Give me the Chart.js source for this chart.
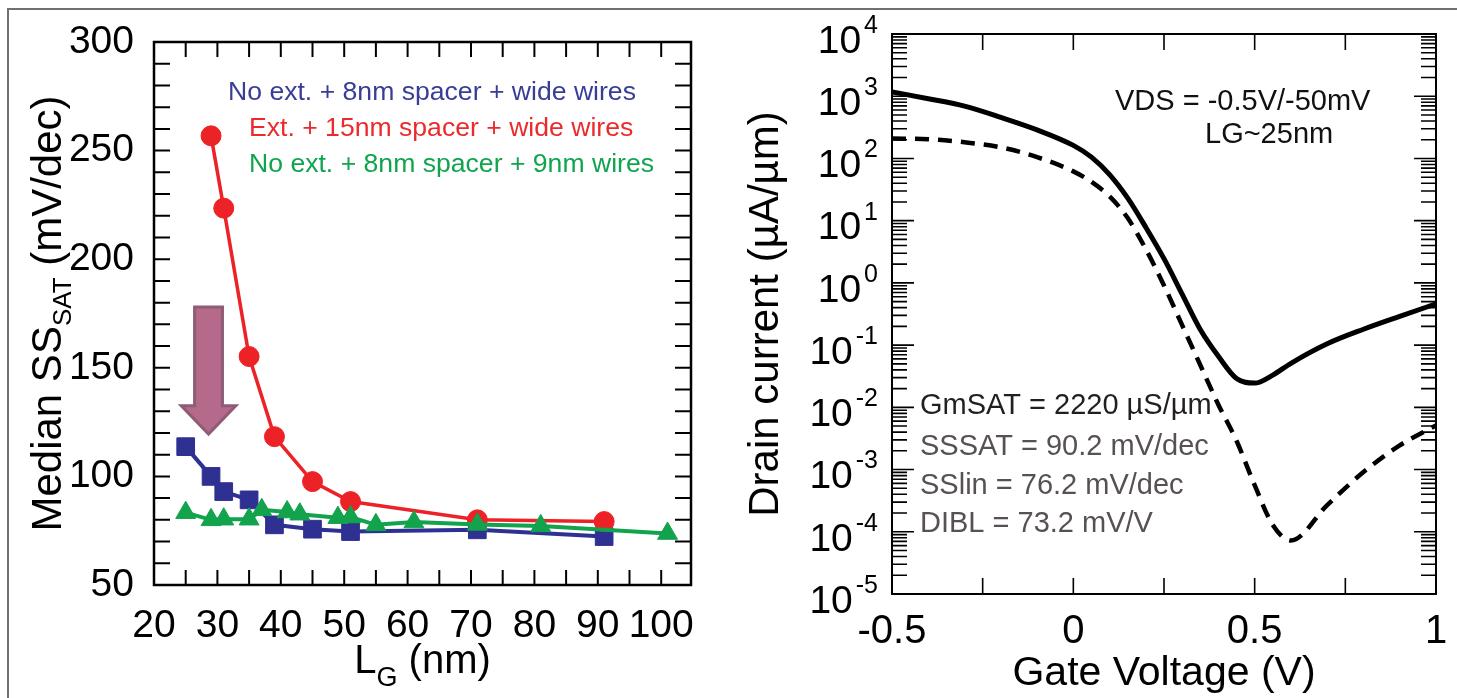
<!DOCTYPE html>
<html><head><meta charset="utf-8">
<script src="https://cdn.jsdelivr.net/npm/chart.js@4.4.1/dist/chart.umd.min.js"></script>
<style>
html,body{margin:0;padding:0;background:#fff;width:1457px;height:698px;overflow:hidden;}
#frame{position:absolute;left:7px;top:8px;width:1460px;height:700px;border-top:2px solid #707070;border-left:2px solid #707070;}
#w1{position:absolute;left:0;top:0;width:730px;height:698px;}
#w2{position:absolute;left:730px;top:0;width:727px;height:698px;}
</style></head>
<body>
<div id="frame"></div>
<div id="w1"><canvas id="c1" width="730" height="698"></canvas></div>
<div id="w2"><canvas id="c2" width="727" height="698"></canvas></div>
<script>
// ---------- Left panel data ----------
const lgBlue  = [25, 29, 31, 35, 39, 45, 51, 71, 91];
const ssBlue  = [113.7, 100, 93, 89.2, 77.7, 75.7, 74.6, 75.4, 72.3];
const lgRed   = [29, 31, 35, 39, 45, 51, 71, 91];
const ssRed   = [256.8, 223.5, 155.2, 118.3, 97.6, 88.4, 80, 79.2];
const lgGreen = [25, 29, 31, 35, 37, 41, 43, 49, 51, 55, 61, 71, 81, 101];
const ssGreen = [83.3, 80, 80.3, 80.3, 84.6, 83.6, 82.6, 81, 81.3, 77.7, 79, 77.9, 77.2, 73.7];
const seriesNames = ['No ext. + 8nm spacer + wide wires', 'Ext. + 15nm spacer + wide wires', 'No ext. + 8nm spacer + 9nm wires'];
const xLabelsL = [20, 30, 40, 50, 60, 70, 80, 90, 100];
const xTicksL  = [20, 25, 30, 35, 40, 45, 50, 55, 60, 65, 70, 75, 80, 85, 90, 95, 100];
const yLabelsL = [50, 100, 150, 200, 250, 300];
const yTicksL  = [50, 60, 70, 80, 90, 100, 110, 120, 130, 140, 150, 160, 170, 180, 190, 200, 210, 220, 230, 240, 250, 260, 270, 280, 290, 300];
// arrow annotation (data units): centre x, top y, head-base y, tip y, shaft half width, head half width
const arrowL = {x: 28.6, top: 178, headBase: 132.5, tip: 119.5, shaftHalf: 2.2, headHalf: 4.3};

// ---------- Right panel data ----------
const vg      = [-0.5, -0.4, -0.3, -0.2, -0.1, 0, 0.05, 0.1, 0.15, 0.2, 0.25, 0.3, 0.35, 0.4, 0.45, 0.5, 0.55, 0.6, 0.7, 0.8, 0.9, 1.0];
const idSat   = [1175, 912, 692, 457, 288, 162, 105, 55, 23, 7.8, 2.45, 0.66, 0.178, 0.066, 0.029, 0.0245, 0.033, 0.051, 0.105, 0.18, 0.29, 0.46];
const idLin   = [209, 204, 182, 151, 105, 62, 42, 24.5, 11, 3.47, 0.91, 0.209, 0.048, 0.011, 0.0029, 0.00056, 0.000129, 0.0000724, 0.000269, 0.000912, 0.00245, 0.00513];
const xLabelsR = [-0.5, 0, 0.5, 1];
const xTextR   = ['-0.5', '0', '0.5', '1'];
const xTicksR  = [-0.5, -0.25, 0, 0.25, 0.5, 0.75, 1];
const yExpR    = [-5, -4, -3, -2, -1, 0, 1, 2, 3, 4];

const FONT = '"Liberation Sans", Arial, Helvetica, sans-serif';
const f = (s) => s + 'px ' + FONT;

// ---------- plugins ----------
const frameTicks = {
  id: 'frameTicks',
  beforeDatasetsDraw(chart, args, o) {
    const {ctx, chartArea: a, scales: {x, y}} = chart;
    ctx.save();
    ctx.strokeStyle = '#000';
    ctx.lineWidth = o.tickWidth;
    ctx.beginPath();
    for (const g of o.xGroups) {
      for (const v of g.values) {
        const px = x.getPixelForValue(v);
        ctx.moveTo(px, a.bottom); ctx.lineTo(px, a.bottom - g.len);
        ctx.moveTo(px, a.top); ctx.lineTo(px, a.top + g.len);
      }
    }
    for (const g of o.yGroups) {
      for (const v of g.values) {
        const py = y.getPixelForValue(v);
        ctx.moveTo(a.left, py); ctx.lineTo(a.left + g.len, py);
        ctx.moveTo(a.right, py); ctx.lineTo(a.right - g.len, py);
      }
    }
    ctx.stroke();
    ctx.lineWidth = o.frameWidth;
    ctx.strokeRect(a.left, a.top, a.right - a.left, a.bottom - a.top);
    ctx.restore();
  }
};

function drawRuns(ctx, runs, x, y, align, rot, color) {
  ctx.save();
  ctx.translate(x, y);
  if (rot) ctx.rotate(rot);
  ctx.fillStyle = color;
  ctx.textBaseline = 'alphabetic';
  ctx.textAlign = 'left';
  let total = 0;
  const ws = runs.map(r => { ctx.font = r.font; const w = ctx.measureText(r.t).width; total += w; return w; });
  let cx = align === 'center' ? -total / 2 : (align === 'right' ? -total : 0);
  runs.forEach((r, i) => { ctx.font = r.font; ctx.fillText(r.t, cx, r.dy || 0); cx += ws[i]; });
  ctx.restore();
}

const notes = {
  id: 'notes',
  afterDraw(chart, args, o) {
    const {ctx, chartArea: a} = chart;
    for (const it of (o.items || [])) {
      const x = typeof it.x === 'function' ? it.x(a) : it.x;
      const y = typeof it.y === 'function' ? it.y(a) : it.y;
      if (it.runs) {
        drawRuns(ctx, it.runs, x, y, it.align, it.rot, it.color);
      } else {
        ctx.save();
        ctx.font = it.font; ctx.fillStyle = it.color;
        ctx.textAlign = it.align || 'left'; ctx.textBaseline = 'middle';
        ctx.fillText(it.text, x, y);
        ctx.restore();
      }
    }
  }
};

const arrowPlugin = {
  id: 'arrowMark',
  afterDatasetsDraw(chart, args, o) {
    if (!o.arrow) return;
    const {ctx, scales: {x, y}} = chart;
    const A = o.arrow;
    const px = v => x.getPixelForValue(v), py = v => y.getPixelForValue(v);
    ctx.save();
    ctx.beginPath();
    ctx.moveTo(px(A.x - A.shaftHalf), py(A.top));
    ctx.lineTo(px(A.x + A.shaftHalf), py(A.top));
    ctx.lineTo(px(A.x + A.shaftHalf), py(A.headBase));
    ctx.lineTo(px(A.x + A.headHalf), py(A.headBase));
    ctx.lineTo(px(A.x), py(A.tip));
    ctx.lineTo(px(A.x - A.headHalf), py(A.headBase));
    ctx.lineTo(px(A.x - A.shaftHalf), py(A.headBase));
    ctx.closePath();
    ctx.fillStyle = o.fill;
    ctx.fill();
    ctx.lineWidth = o.lineWidth;
    ctx.strokeStyle = o.stroke;
    ctx.lineJoin = 'miter';
    ctx.stroke();
    ctx.restore();
  }
};

const expLabels = {
  id: 'expLabels',
  afterDraw(chart, args, o) {
    if (!o.exps) return;
    const {ctx, scales: {y}, chartArea: a} = chart;
    ctx.save();
    ctx.fillStyle = '#000'; ctx.textAlign = 'right'; ctx.textBaseline = 'middle';
    for (const e of o.exps) {
      const py = y.getPixelForValue(Math.pow(10, e));
      const xr = a.left - o.gap;
      const es = String(e);
      ctx.font = o.expFont;
      const w = ctx.measureText(es).width;
      ctx.fillText(es, xr, py + o.expDy);
      ctx.font = o.baseFont;
      ctx.fillText('10', xr - w - o.sep, py + o.baseDy);
    }
    ctx.restore();
  }
};

// ---------- Left chart ----------
const BLUE = '#2e3192', RED = '#ec2227', GREEN = '#12a34c';
const pts = (xs, ys) => xs.map((v, i) => ({x: v, y: ys[i]}));

new Chart(document.getElementById('c1'), {
  type: 'scatter',
  data: {
    datasets: [
      {label: seriesNames[2], data: pts(lgGreen, ssGreen), showLine: true, borderColor: GREEN, backgroundColor: GREEN,
       borderWidth: 4, pointStyle: 'triangle', pointRadius: 11.5, pointBorderWidth: 1},
      {label: seriesNames[1], data: pts(lgRed, ssRed), showLine: true, borderColor: RED, backgroundColor: RED,
       borderWidth: 3.5, pointStyle: 'circle', pointRadius: 10, pointBorderWidth: 1},
      {label: seriesNames[0], data: pts(lgBlue, ssBlue), showLine: true, borderColor: BLUE, backgroundColor: BLUE,
       borderWidth: 4, pointStyle: 'rect', pointRadius: 12.5, pointBorderWidth: 1}
    ]
  },
  options: {
    responsive: false, animation: false, events: [],
    layout: {padding: {top: 42, right: 39, left: 0, bottom: 0}},
    plugins: {
      legend: {display: false}, tooltip: {enabled: false},
      frameTicks: {tickWidth: 2, frameWidth: 2.5,
        xGroups: [{values: xTicksL, len: 15}], yGroups: [{values: yTicksL, len: 16}]},
      arrowMark: {arrow: arrowL, fill: '#b5698b', stroke: '#8e5d75', lineWidth: 3},
      notes: {items: [
        {text: seriesNames[0], x: 228, y: 93, font: f(26.6), color: '#383d96'},
        {text: seriesNames[1], x: 249, y: 129, font: f(26.6), color: '#ec2a2c'},
        {text: seriesNames[2], x: 249, y: 165, font: f(26.6), color: '#11a44f'},
        {runs: [{t: 'Median SS', font: f(42)}, {t: 'SAT', font: f(26), dy: 10}, {t: ' (mV/dec)', font: f(42)}],
         x: 61, y: a => (a.top + a.bottom) / 2, align: 'center', rot: -Math.PI / 2, color: '#000'},
        {runs: [{t: 'L', font: f(40)}, {t: 'G', font: f(27), dy: 13}, {t: ' (nm)', font: f(40)}],
         x: a => (a.left + a.right) / 2, y: 673, align: 'center', color: '#000'}
      ]}
    },
    scales: {
      x: {type: 'linear', min: 20, max: 104.7,
        grid: {display: false}, border: {display: false},
        afterBuildTicks: s => { s.ticks = xLabelsL.map(v => ({value: v})); },
        afterFit: s => { s.height = 113; },
        ticks: {font: {family: FONT, size: 39}, color: '#000', padding: 10, maxRotation: 0, autoSkip: false}},
      y: {type: 'linear', min: 50, max: 300,
        grid: {display: false}, border: {display: false},
        afterBuildTicks: s => { s.ticks = yLabelsL.map(v => ({value: v})); },
        afterFit: s => { s.width = 154; },
        ticks: {font: {family: FONT, size: 39}, color: '#000', padding: 12, autoSkip: false}}
    }
  },
  plugins: [frameTicks, arrowPlugin, notes]
});

// ---------- Right chart ----------
const yMinorR = [];
for (let e = -5; e < 4; e++) for (let m = 2; m <= 9; m++) yMinorR.push(m * Math.pow(10, e));
const yMajorR = yExpR.map(e => Math.pow(10, e));

new Chart(document.getElementById('c2'), {
  type: 'scatter',
  data: {
    datasets: [
      {label: 'VDS = -0.5V', data: pts(vg, idSat), showLine: true, borderColor: '#000', borderWidth: 5,
       pointRadius: 0, cubicInterpolationMode: 'monotone', borderCapStyle: 'butt'},
      {label: 'VDS = -50mV', data: pts(vg, idLin), showLine: true, borderColor: '#000', borderWidth: 4.5,
       borderDash: [14, 9], pointRadius: 0, cubicInterpolationMode: 'monotone', borderCapStyle: 'butt'}
    ]
  },
  options: {
    responsive: false, animation: false, events: [],
    layout: {padding: {top: 34, right: 21, left: 0, bottom: 0}},
    plugins: {
      legend: {display: false}, tooltip: {enabled: false},
      frameTicks: {tickWidth: 1.6, frameWidth: 2,
        xGroups: [{values: xTicksR, len: 16}],
        yGroups: [{values: yMajorR, len: 22}, {values: yMinorR, len: 15}]},
      expLabels: {exps: yExpR, gap: 14, sep: 3, expFont: f(25), baseFont: f(39), expDy: -8, baseDy: 8},
      notes: {items: [
        {text: 'VDS = -0.5V/-50mV', x: 385, y: 102, font: f(29), color: '#111'},
        {text: 'LG~25nm', x: 475, y: 135, font: f(29), color: '#111'},
        {text: 'GmSAT = 2220 \u00b5S/\u00b5m', x: 190, y: 406, font: f(29), color: '#231f20'},
        {text: 'SSSAT = 90.2 mV/dec', x: 190, y: 447, font: f(29), color: '#575152'},
        {text: 'SSlin = 76.2 mV/dec', x: 190, y: 486, font: f(29), color: '#575152'},
        {text: 'DIBL = 73.2 mV/V', x: 190, y: 524, font: f(29), color: '#575152'}
      ]}
    },
    scales: {
      x: {type: 'linear', min: -0.5, max: 1,
        grid: {display: false}, border: {display: false},
        afterBuildTicks: s => { s.ticks = xLabelsR.map(v => ({value: v})); },
        afterFit: s => { s.height = 104; },
        ticks: {font: {family: FONT, size: 40}, color: '#000', padding: 6, maxRotation: 0, autoSkip: false,
          callback: (v) => { const i = xLabelsR.indexOf(v); return i >= 0 ? xTextR[i] : ''; }},
        title: {display: true, text: 'Gate Voltage (V)', color: '#000', font: {family: FONT, size: 41}, padding: 0}},
      y: {type: 'logarithmic', min: 1e-5, max: 1e4,
        grid: {display: false}, border: {display: false},
        afterBuildTicks: s => { s.ticks = yMajorR.map(v => ({value: v})); },
        afterFit: s => { s.width = 162; },
        ticks: {display: false},
        title: {display: true, text: 'Drain current (\u00b5A/\u00b5m)', color: '#000', font: {family: FONT, size: 42}, padding: {top: 11, bottom: 0}}}
    }
  },
  plugins: [frameTicks, expLabels, notes]
});
</script>
</body></html>
